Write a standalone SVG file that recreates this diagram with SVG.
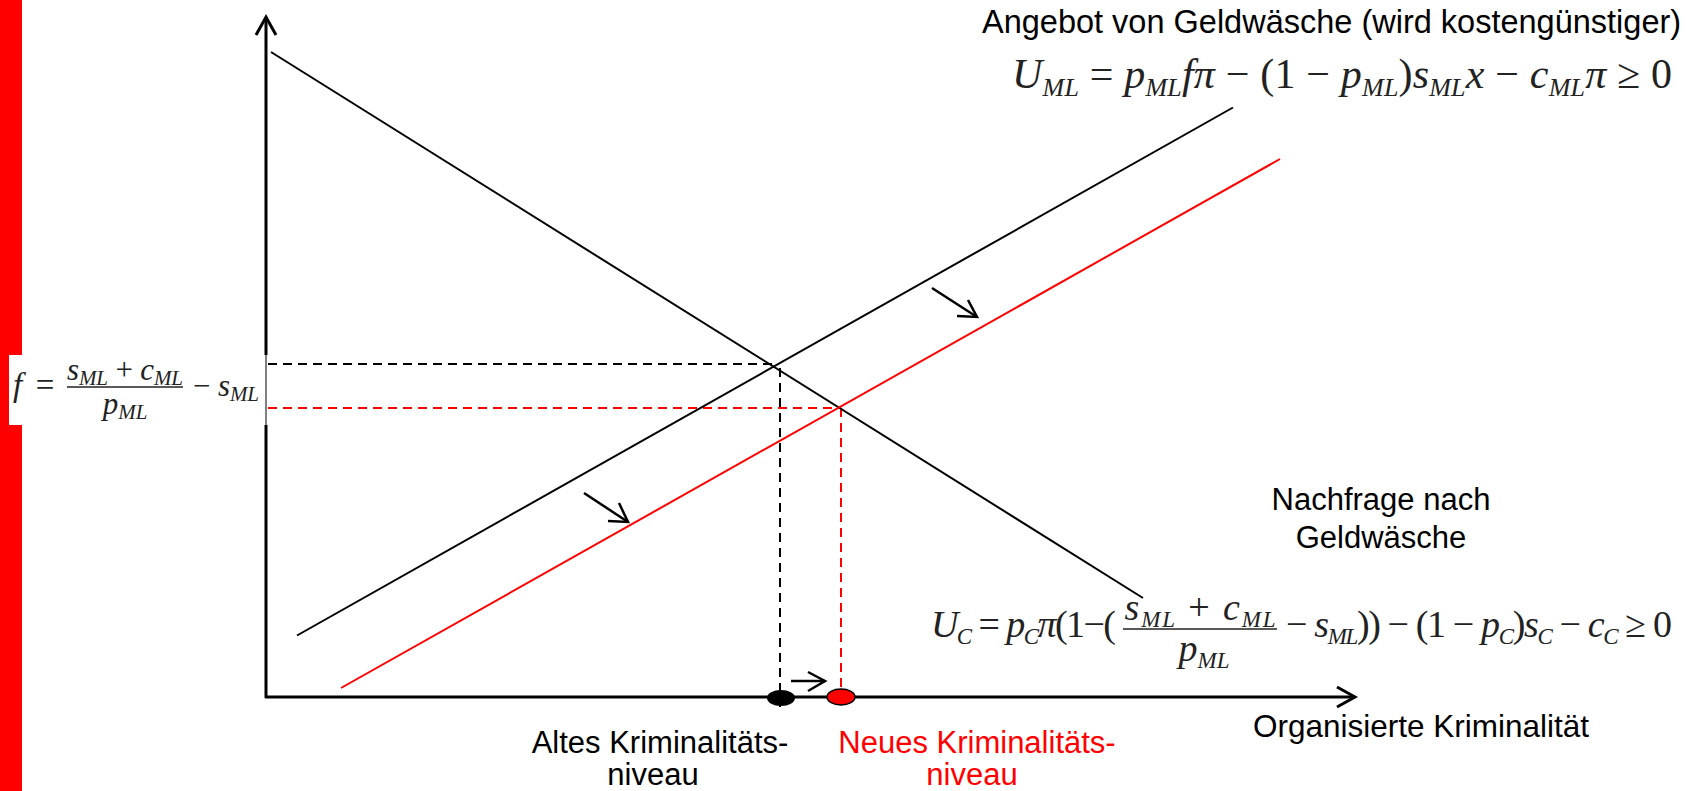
<svg xmlns="http://www.w3.org/2000/svg" width="1686" height="791" viewBox="0 0 1686 791">
<style>
.ax{stroke:#000;stroke-width:3;fill:none}
.ln{stroke:#000;stroke-width:2;fill:none}
.rl{stroke:#f00;stroke-width:2;fill:none}
.dk{stroke:#000;stroke-width:2;stroke-dasharray:9 6;fill:none}
.dr{stroke:#f00;stroke-width:2;stroke-dasharray:9 6;fill:none}
.ar{stroke:#000;stroke-width:2.5;fill:none}
.lbl{font-family:"Liberation Sans",Arial,sans-serif;font-size:31px;fill:#000}
.red{fill:#f00}
.m{font-family:"Liberation Serif","Times New Roman",serif;font-style:italic;fill:#222}
.r{font-style:normal}
</style>
<rect width="1686" height="791" fill="#fff"/>
<rect id="redbar" x="0" y="0" width="22" height="791" fill="#f00"/>
<g id="formula-f">
<rect x="9" y="355" width="258" height="70" fill="#fff"/>
<text class="m" x="13" y="396" font-size="33">f</text>
<text class="m r" x="45" y="396" font-size="33" text-anchor="middle">=</text>
<text class="m" x="125" y="380" font-size="31" text-anchor="middle" textLength="116" lengthAdjust="spacing">s<tspan font-size="21" dy="5">ML</tspan><tspan class="r" dy="-5"> + </tspan>c<tspan font-size="21" dy="5">ML</tspan></text>
<line x1="67" y1="387" x2="183" y2="387" stroke="#222" stroke-width="1.5"/>
<text class="m" x="125" y="414" font-size="31" text-anchor="middle">p<tspan font-size="21" dy="5">ML</tspan></text>
<text class="m" x="193" y="396" font-size="31" textLength="66" lengthAdjust="spacing"><tspan class="r">− </tspan>s<tspan font-size="21" dy="5">ML</tspan></text>
</g>
<g id="axes">
<line class="ax" x1="266" y1="17" x2="266" y2="355"/>
<line x1="266" y1="355" x2="266" y2="425" stroke="#000" stroke-width="1"/>
<line class="ax" x1="266" y1="425" x2="266" y2="698"/>
<polyline class="ax" points="256,35 266,17 276,35"/>
<line class="ax" x1="265" y1="697" x2="1355" y2="697"/>
<polyline class="ax" points="1337,687 1355,697 1337,707"/>
</g>
<g id="connectors">
<line class="dk" x1="268" y1="364" x2="775" y2="364"/>
<line class="dr" x1="268" y1="408" x2="841" y2="408"/>
<line class="dk" x1="780" y1="368" x2="780" y2="710"/>
<line class="dr" x1="841" y1="408" x2="841" y2="689"/>
<line id="demand" class="ln" x1="271" y1="52" x2="1143" y2="598"/>
<line id="supply-old" class="ln" x1="297" y1="635.5" x2="1233" y2="107.5"/>
<line id="supply-new" class="rl" x1="341" y1="688" x2="1280" y2="159"/>
<line class="ar" x1="584" y1="493" x2="628" y2="522"/>
<polyline class="ar" points="619,503 628,522 608,521"/>
<line class="ar" x1="932" y1="288" x2="977" y2="317"/>
<polyline class="ar" points="968,300 977,317 957,316"/>
<line class="ar" x1="791" y1="681" x2="825" y2="681"/>
<polyline class="ar" points="808,672 825,681 808,691"/>
</g>
<g id="dot-old"><ellipse cx="781" cy="698" rx="14" ry="8" fill="#000"/></g>
<g id="dot-new"><ellipse cx="841" cy="697" rx="14" ry="8" fill="#f00" stroke="#000" stroke-width="1.5"/></g>
<g id="label-supply">
<text class="lbl" x="982" y="33" style="font-size:32.5px">Angebot von Geldwäsche (wird kostengünstiger)</text>
<text class="m" x="1012" y="88" font-size="42" textLength="660" lengthAdjust="spacing">U<tspan font-size="26" dy="8">ML</tspan><tspan class="r" dy="-8"> = </tspan>p<tspan font-size="26" dy="8">ML</tspan><tspan dy="-8">fπ</tspan><tspan class="r"> − (1 − </tspan>p<tspan font-size="26" dy="8">ML</tspan><tspan class="r" dy="-8">)</tspan>s<tspan font-size="26" dy="8">ML</tspan><tspan dy="-8">x</tspan><tspan class="r"> − </tspan>c<tspan font-size="26" dy="8">ML</tspan><tspan dy="-8">π</tspan><tspan class="r"> ≥ 0</tspan></text>
</g>
<g id="label-demand">
<text class="lbl" x="1381" y="510" text-anchor="middle">Nachfrage nach</text>
<text class="lbl" x="1381" y="548" text-anchor="middle">Geldwäsche</text>
<text class="m" x="931" y="637" font-size="38" textLength="185" lengthAdjust="spacing">U<tspan font-size="23" dy="7">C</tspan><tspan class="r" dy="-7"> = </tspan>p<tspan font-size="23" dy="7">C</tspan><tspan dy="-7">π</tspan><tspan class="r">(1−(</tspan></text>
<text class="m" x="1200" y="620" font-size="38" text-anchor="middle" textLength="151" lengthAdjust="spacing">s<tspan font-size="23" dy="7">ML</tspan><tspan class="r" dy="-7"> + </tspan>c<tspan font-size="23" dy="7">ML</tspan></text>
<line x1="1123" y1="629" x2="1277" y2="629" stroke="#222" stroke-width="1.5"/>
<text class="m" x="1204" y="661" font-size="38" text-anchor="middle">p<tspan font-size="23" dy="7">ML</tspan></text>
<text class="m" x="1286" y="637" font-size="38" textLength="386" lengthAdjust="spacing"><tspan class="r">− </tspan>s<tspan font-size="23" dy="7">ML</tspan><tspan class="r" dy="-7">)) − (1 − </tspan>p<tspan font-size="23" dy="7">C</tspan><tspan class="r" dy="-7">)</tspan>s<tspan font-size="23" dy="7">C</tspan><tspan class="r" dy="-7"> − </tspan>c<tspan font-size="23" dy="7">C</tspan><tspan class="r" dy="-7"> ≥ 0</tspan></text>
</g>
<g id="label-xaxis">
<text class="lbl" x="1253" y="737" style="font-size:31.5px">Organisierte Kriminalität</text>
</g>
<g id="label-old">
<text class="lbl" x="660" y="753" text-anchor="middle">Altes Kriminalitäts-</text>
<text class="lbl" x="653" y="785" text-anchor="middle">niveau</text>
</g>
<g id="label-new">
<text class="lbl red" x="977" y="753" text-anchor="middle">Neues Kriminalitäts-</text>
<text class="lbl red" x="972" y="785" text-anchor="middle">niveau</text>
</g>
</svg>
